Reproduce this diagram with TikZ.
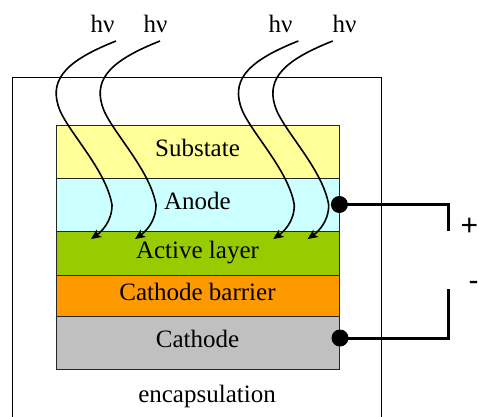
\documentclass[tikz,border=0pt]{standalone}
\usepackage{fontspec}
\setmainfont{Liberation Serif}
\newfontfamily\termfont{Liberation Sans}
\usetikzlibrary{arrows.meta}
\definecolor{subcol}{HTML}{FFFF99}
\definecolor{anocol}{HTML}{CCFFFF}
\definecolor{actcol}{HTML}{99CC00}
\definecolor{barcol}{HTML}{FF9900}
\definecolor{catcol}{HTML}{C0C0C0}
\tikzset{
  lyr/.style    ={rectangle,draw=black!85,line width=0.8pt,minimum width=283pt,
                  inner sep=0pt,text height=16pt,text depth=6pt,
                  font=\fontsize{25}{30}\selectfont},
  lsub/.style   ={lyr,fill=subcol},
  lano/.style   ={lyr,fill=anocol},
  lact/.style   ={lyr,fill=actcol},
  lbar/.style   ={lyr,fill=barcol},
  lcat/.style   ={lyr,fill=catcol},
  lbl/.style    ={font=\fontsize{25}{30}\selectfont,inner sep=0pt},
  term/.style   ={font=\termfont\fontsize{30}{36}\selectfont,inner sep=0pt},
}

\begin{document}
\begin{tikzpicture}[
  x=1pt, y=-1pt,
  >={Stealth[length=10pt,width=9pt,inset=2.5pt]},
  encbox/.style ={rectangle,draw=black,line width=0.8pt,minimum width=369pt,
                  minimum height=362pt,inner sep=0pt},
  photon/.style ={->,draw=black,line width=1.6pt},
  wire/.style   ={draw=black,line width=3pt},
  hv/.style     ={lbl,anchor=base},
]
\clip (0,0) rectangle (479,416);
\fill[white] (0,0) rectangle (479,416);
%% encapsulation
\node[encbox] (enc) at (196.5,258) {};
\node[lbl,anchor=base] (enctxt) at (207,402) {encapsulation};
%% layer stack
\node[lsub,minimum height=53pt] (sub) at (197.5,151.5) {Substate};
\node[lano,minimum height=53pt] (ano) at (197.5,204.5) {Anode};
\node[lact,minimum height=44pt] (act) at (197.5,253)   {Active layer};
\node[lbar,minimum height=41pt] (bar) at (197.5,295.5) {Cathode barrier};
\node[lcat,minimum height=53pt] (cat) at (197.5,342.5) {Cathode};
%% incoming light
\foreach \x/\k in {102.5/1, 155.5/2, 280.5/3, 344.5/4}{%
  \node[hv] (hv\k) at (\x,32) {hν};
}
\foreach \dx/\k in {0/1, 44/2, 182.3/3, 216.7/4}{%
  \begin{scope}[xshift=\dx]
    \coordinate (ps\k) at (116,41);
    \coordinate (pe\k) at (91,239);
    \draw[photon] (ps\k) .. controls (68,60) and (50,78) .. (58,105)
                  .. controls (64,128) and (106,168) .. (112,205)
                  .. controls (112,222) and (101,232) .. (pe\k);
  \end{scope}
}
%% contacts
\coordinate (pA) at (ano.east);
\coordinate (pC) at (340,338);
\coordinate (tA) at (448,231);
\coordinate (tC) at (448,289);
\draw[wire] (pA) -| (tA);
\draw[wire] (pC) -| (tC);
\fill (pA) circle[radius=8.5pt];
\fill (pC) circle[radius=8.5pt];
\node[term] (plus)  at (469.5,226.5) {+};
\node[term] (minus) at (473.5,286) {-};
\end{tikzpicture}
\end{document}
